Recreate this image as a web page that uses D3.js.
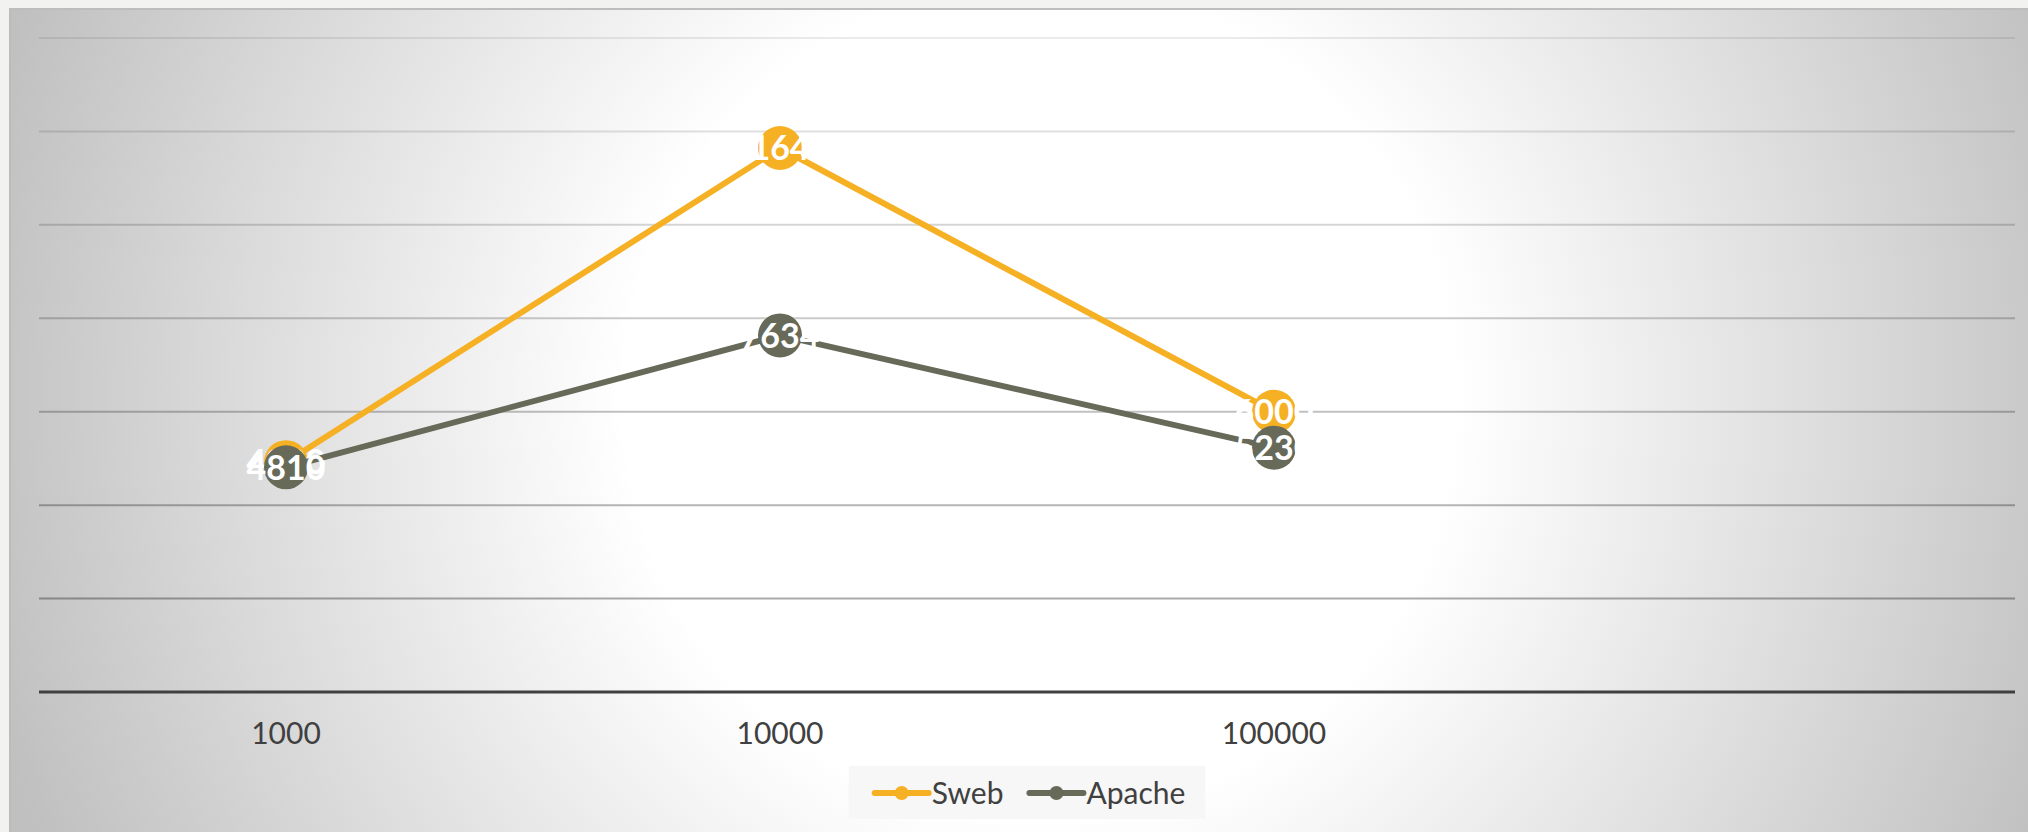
<!DOCTYPE html>
<html>
<head>
<meta charset="utf-8">
<script src="https://cdn.jsdelivr.net/npm/d3@7"></script>
<style>
  html, body { margin: 0; padding: 0; background: #f2f2f0; }
  svg { display: block; }
  text { font-family: Lato, "Open Sans", sans-serif; }
</style>
</head>
<body>
<svg id="chart" width="2028" height="832"></svg>
<script>
// data
var categories = ["1000", "10000", "100000", ""];
var sweb = [4920, 11645, 6000];
var apache = [4810, 7634, 5230];
var yTicks = [2000, 4000, 6000, 8000, 10000, 12000, 14000];

var series = [
  { name: "Sweb", values: sweb, color: "#f6b024" },
  { name: "Apache", values: apache, color: "#676a58" }
];

var svg = d3.select("#chart"),
    width = +svg.attr("width"),
    height = +svg.attr("height");

var defs = svg.append("defs");
var grad = defs.append("radialGradient")
    .attr("id", "bg")
    .attr("gradientUnits", "userSpaceOnUse")
    .attr("cx", 1040).attr("cy", 400).attr("r", 1090);
grad.append("stop").attr("offset", "0%").attr("stop-color", "#ffffff");
grad.append("stop").attr("offset", "38%").attr("stop-color", "#ffffff");
grad.append("stop").attr("offset", "100%").attr("stop-color", "#c0c0c0");

// chart area background
svg.append("rect")
    .attr("x", 9).attr("y", 8)
    .attr("width", width - 9).attr("height", height - 8)
    .attr("fill", "url(#bg)");
svg.append("line")
    .attr("x1", 9).attr("x2", width).attr("y1", 9).attr("y2", 9)
    .attr("stroke", "#bdbdbd").attr("stroke-width", 2);
svg.append("line")
    .attr("x1", 10).attr("x2", 10).attr("y1", 8).attr("y2", height)
    .attr("stroke", "#bcbcbc").attr("stroke-width", 2);

var x = d3.scaleBand().domain(categories).range([39, 2015]);
var y = d3.scaleLinear().domain([0, 14000]).range([692, 38]);

function cx(i) { return x(categories[i]) + x.bandwidth() / 2; }

// gridlines, fainter at the top
var shade = d3.scaleLinear().domain([14000, 2000]).range([0.08, 0.33]);
svg.append("g")
  .selectAll("line")
  .data(yTicks)
  .enter().append("line")
    .attr("x1", 39).attr("x2", 2015)
    .attr("y1", function(d) { return y(d); })
    .attr("y2", function(d) { return y(d); })
    .attr("stroke", "#000")
    .attr("stroke-opacity", function(d) { return shade(d); })
    .attr("stroke-width", 2);

// x axis
var xAxis = svg.append("g")
    .attr("transform", "translate(0," + y(0) + ")")
    .call(d3.axisBottom(x).tickSize(0).tickPadding(31));
xAxis.select(".domain")
    .attr("stroke", "#404040").attr("stroke-width", 3)
    .attr("d", "M39,0H2015");
xAxis.selectAll("text")
    .attr("font-size", 30)
    .attr("fill", "#404040")
    .attr("font-family", "Lato, sans-serif");

var line = d3.line()
    .x(function(d, i) { return cx(i); })
    .y(function(d) { return y(d); });

series.forEach(function(s) {
  var g = svg.append("g").attr("class", "series");
  g.append("path")
      .datum(s.values)
      .attr("fill", "none")
      .attr("stroke", s.color)
      .attr("stroke-width", 6)
      .attr("stroke-linejoin", "round")
      .attr("d", line);
  g.selectAll("circle")
      .data(s.values)
      .enter().append("circle")
      .attr("cx", function(d, i) { return cx(i); })
      .attr("cy", function(d) { return y(d); })
      .attr("r", 22)
      .attr("fill", s.color);
  g.selectAll("text")
      .data(s.values)
      .enter().append("text")
      .attr("x", function(d, i) { return cx(i); })
      .attr("y", function(d) { return y(d); })
      .attr("dy", "0.36em")
      .attr("text-anchor", "middle")
      .attr("font-size", 34)
      .attr("font-weight", 700)
      .attr("fill", "#ffffff")
      .text(function(d) { return d; });
});

// legend
var legend = svg.append("g");
var legBox = legend.append("rect")
    .attr("y", 766).attr("height", 53)
    .attr("fill", "#f7f7f7");
var lx = 0, gap = 26;
series.forEach(function(s, i) {
  var it = legend.append("g").attr("class", "item");
  it.append("line")
      .attr("x1", 0).attr("x2", 54).attr("y1", 793).attr("y2", 793)
      .attr("stroke", s.color).attr("stroke-width", 6)
      .attr("stroke-linecap", "round");
  it.append("circle")
      .attr("cx", 27).attr("cy", 793).attr("r", 7)
      .attr("fill", s.color);
  var t = it.append("text")
      .attr("x", 57).attr("y", 793).attr("dy", "0.35em")
      .attr("font-size", 30)
      .attr("fill", "#404040")
      .text(s.name);
  it.attr("data-off", lx);
  lx += 57 + t.node().getComputedTextLength() + gap;
});
var total = lx - gap, padL = 26, padR = 20, center = 1027;
var left = center - (total + padL + padR) / 2 + padL;
legend.selectAll("g.item").each(function() {
  var g = d3.select(this);
  g.attr("transform", "translate(" + (left + +g.attr("data-off")) + ",0)");
});
legBox.attr("x", left - padL).attr("width", total + padL + padR);
</script>
</body>
</html>
